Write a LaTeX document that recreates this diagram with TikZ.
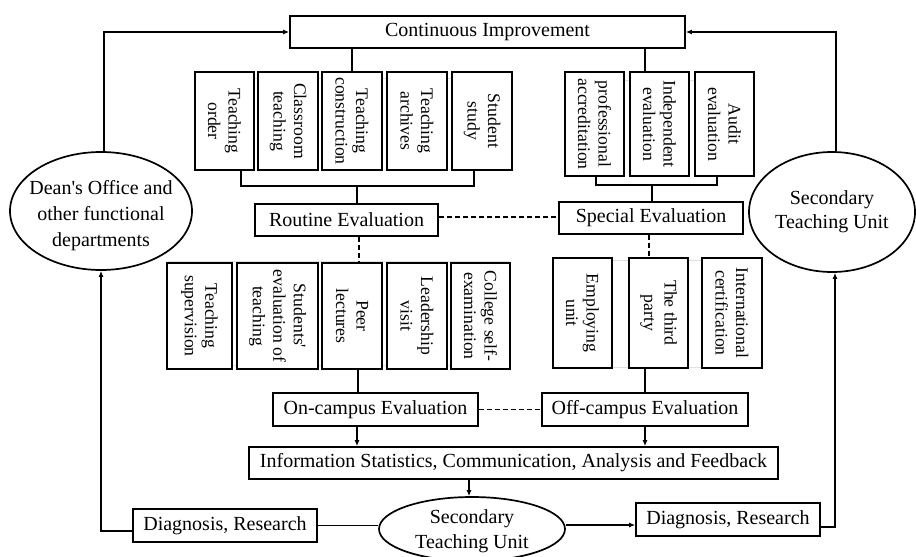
\documentclass[tikz,border=0pt]{standalone}
\usepackage{fontspec}
\setmainfont{Liberation Serif}
\usetikzlibrary{arrows.meta,calc,shapes.geometric}
\begin{document}
\begin{tikzpicture}[x=1pt,y=-1pt,
  box/.style={draw,line width=1.7pt,fill=white,inner sep=0pt,font=\fontsize{20}{24}\selectfont},
  vbox/.style={draw,line width=1.7pt,fill=white,inner sep=0pt},
  vtext/.style={rotate=-90,align=center,inner sep=0pt,font=\fontsize{17.7}{20.5}\selectfont},
  oval/.style={draw,ellipse,line width=1.7pt,inner sep=0pt,fill=white},
  otext/.style={align=center,inner sep=0pt,font=\fontsize{20}{26}\selectfont},
  conn/.style={line width=1.7pt},
  dconn/.style={line width=1.7pt,dash pattern=on 5pt off 3pt},
  arr/.style={line width=1.7pt,-{Latex[length=6pt,width=5pt]}},
  faint/.style={line width=1pt,gray!25}]
\useasboundingbox (0,0) rectangle (916,557);
% faint background lines
\draw[faint] (195,78) -- (512,78);
\draw[faint] (565,80) -- (754,80);
\draw[faint] (167,261) -- (510,261);
\draw[faint] (167,365) -- (510,365);
\draw[faint] (553,260) -- (762,260);
\draw[faint] (553,367) -- (762,367);
% top
\node[box,minimum width=395,minimum height=32] (CI) at (487.5,32) {Continuous Improvement};
% top-left boxes
\node[vbox,minimum width=59,minimum height=98] (to) at (224.5,121) {};
\node[vbox,minimum width=60,minimum height=98] (ct) at (288,121) {};
\node[vbox,minimum width=60,minimum height=98] (tc) at (352,121) {};
\node[vbox,minimum width=60,minimum height=98] (ta) at (417,121) {};
\node[vbox,minimum width=60,minimum height=98] (ss) at (482,121) {};
\node[vtext] at (to) {Teaching\\order};
\node[vtext] at (ct) {Classroom\\teaching};
\node[vtext] at (tc) {Teaching\\construction};
\node[vtext] at (ta) {Teaching\\archives};
\node[vtext] at (ss) {Student\\study};
% top-right boxes
\node[vbox,minimum width=59,minimum height=104] (pa) at (594.5,124) {};
\node[vbox,minimum width=59,minimum height=104] (ie) at (659.5,124) {};
\node[vbox,minimum width=59,minimum height=104] (ae) at (724.5,124) {};
\node[vtext] at (pa) {professional\\accreditation};
\node[vtext] at (ie) {Independent\\evaluation};
\node[vtext] at (ae) {Audit\\evaluation};
% middle
\node[box,minimum width=183,minimum height=32] (RE) at (346.5,220) {Routine Evaluation};
\node[box,minimum width=184,minimum height=32] (SE) at (651,218) {Special Evaluation};
% bottom-left boxes
\node[vbox,minimum width=65,minimum height=106] (tsu) at (199.5,316) {};
\node[vbox,minimum width=81,minimum height=106] (sev) at (277.5,316) {};
\node[vbox,minimum width=60,minimum height=106] (pl) at (352,316) {};
\node[vbox,minimum width=60,minimum height=106] (lv) at (417,316) {};
\node[vbox,minimum width=59,minimum height=106] (cse) at (480.5,316) {};
\node[vtext] at (tsu) {Teaching\\supervision};
\node[vtext] at (sev) {Students\textquotesingle\\evaluation of\\teaching};
\node[vtext] at (pl) {Peer\\lectures};
\node[vtext] at (lv) {Leadership\\visit};
\node[vtext] at (cse) {College self-\\examination};
% bottom-right boxes
\node[vbox,minimum width=59,minimum height=110] (eu) at (582.5,313) {};
\node[vbox,minimum width=59,minimum height=110] (tp) at (658.5,313) {};
\node[vbox,minimum width=60,minimum height=110] (ic) at (732,313) {};
\node[vtext] at (eu) {Employing\\unit};
\node[vtext] at (tp) {The third\\party};
\node[vtext] at (ic) {International\\certification};
% lower
\node[box,minimum width=205,minimum height=33] (ON) at (375.5,409.5) {On-campus Evaluation};
\node[box,minimum width=206,minimum height=33] (OFF) at (645,409.5) {Off-campus Evaluation};
\node[box,minimum width=529,minimum height=32] (INFO) at (513.5,463) {Information Statistics, Communication, Analysis and Feedback};
\node[box,minimum width=184,minimum height=33] (DL) at (225,525.5) {Diagnosis, Research};
\node[box,minimum width=184,minimum height=33] (DR) at (728,519.5) {Diagnosis, Research};
% ellipses
\node[oval,minimum width=182,minimum height=118] (DEAN) at (101,211) {};
\node[otext] at (101,216) {Dean\textquotesingle s Office and\\other functional\\departments};
\node[oval,minimum width=166,minimum height=120] (SR) at (832,212) {};
\node[otext,font=\fontsize{20}{24}\selectfont] at (832,212) {Secondary\\Teaching Unit};
\node[oval,minimum width=186,minimum height=64] (EB) at (472,529) {};
\node[otext,font=\fontsize{20}{25}\selectfont] at (472,531) {Secondary\\Teaching Unit};
% connectors top
\draw[conn] (CI.south -| tc.north) -- (tc.north);
\coordinate (c1) at ([xshift=-14.5pt]ie.north);
\draw[conn] (CI.south -| c1) -- (c1);
\coordinate (bl) at (357,186);
\draw[conn] ([xshift=16.5pt]to.south) |- (bl) -| ([xshift=-8pt]ss.south);
\draw[conn] (bl) -- (bl |- RE.north);
\coordinate (br) at (652,185);
\draw[conn] ([xshift=1.5pt]pa.south) |- (br) -| ([xshift=-7.5pt]ae.south);
\draw[conn] (br) -- (br |- SE.north);
% dashed
\draw[dconn] ([yshift=3pt]RE.east) -- ([yshift=3pt]RE.east -| SE.west);
\coordinate (c2) at ([xshift=12.5pt]RE.south);
\draw[dconn] (c2) -- (c2 |- pl.north);
\coordinate (c3) at ([xshift=-2pt]SE.south);
\draw[dconn] (c3) -- (c3 |- tp.north);
\draw[dconn] (ON.east) -- (OFF.west);
% lower connectors
\coordinate (c4) at ([xshift=6pt]pl.south);
\draw[conn] (c4) -- (c4 |- ON.north);
\coordinate (c5) at ([xshift=-13.5pt]tp.south);
\draw[conn] (c5) -- (c5 |- OFF.north);
\coordinate (c6) at ([xshift=-18.5pt]ON.south);
\draw[arr] (c6) -- (c6 |- INFO.north);
\draw[arr] (OFF.south) -- (OFF.south |- INFO.north);
\coordinate (c7) at ([xshift=-44.5pt]INFO.south);
\draw[arr] (c7) -- (c7 |- EB.north);
\draw[conn] (DL.east) -- (DL.east -| EB.west);
\draw[arr] ([yshift=-5.5pt]DL.west) -| (DEAN.south);
\coordinate (c8) at ([yshift=-5.5pt]DR.west);
\draw[arr] (c8 -| EB.east) -- (c8);
\draw[arr] ([yshift=-7.5pt]DR.east) -| ([xshift=3pt]SR.south);
\draw[arr] ([xshift=3pt]DEAN.north) |- (CI.west);
\draw[arr] ([xshift=4pt]SR.north) |- (CI.east);
\end{tikzpicture}
\end{document}
